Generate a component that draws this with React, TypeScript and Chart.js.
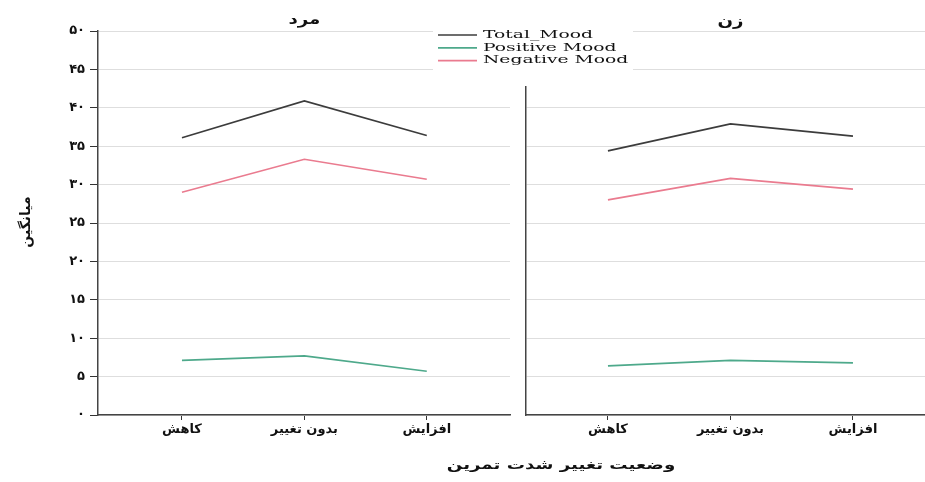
import React, { useEffect, useRef } from 'react';
import { Chart, registerables } from 'chart.js';
Chart.register(...registerables);

const W = 925;
const H = 482;

const categories = ['کاهش', 'بدون تغییر', 'افزایش'];
const seriesNames = ['Total_Mood', 'Positive Mood', 'Negative Mood'];
const seriesColors = ['#3c3c3c', '#4ea98b', '#ea7b8f'];
const panelTitles = ['مرد', 'زن'];

const maleTotal = [36.1, 40.9, 36.4];
const malePositive = [7.1, 7.7, 5.7];
const maleNegative = [29.0, 33.3, 30.7];

const femaleTotal = [34.4, 37.9, 36.3];
const femalePositive = [6.4, 7.1, 6.8];
const femaleNegative = [28.0, 30.8, 29.4];

const yTitle = 'میانگین';
const xTitle = 'وضعیت تغییر شدت تمرین';
const yMin = 0;
const yMax = 50;
const yStep = 5;

const toFa = (n: number | string) => String(n).replace(/\d/g, (d) => '۰۱۲۳۴۵۶۷۸۹'[+d]);

const makeDatasets = (vals: number[][]) =>
  seriesNames.map((name, k) => ({
    label: name,
    data: categories.map((_, i) => ({ x: i, y: vals[k][i] })),
    borderColor: seriesColors[k],
    backgroundColor: seriesColors[k],
    borderWidth: 1.7,
    pointRadius: 0,
    fill: false,
    tension: 0,
  }));

function drawStretched(ctx: CanvasRenderingContext2D, text: string, x: number, y: number, font: string, sx: number, align: CanvasTextAlign = 'center', rot = 0) {
  ctx.save();
  ctx.font = font;
  ctx.fillStyle = '#111';
  ctx.textAlign = align;
  ctx.textBaseline = 'middle';
  ctx.translate(x, y);
  if (rot) ctx.rotate(rot);
  ctx.scale(sx, 1);
  ctx.fillText(text, 0, 0);
  ctx.restore();
}

const xTickFont = { family: 'DejaVu Sans', size: 13, weight: 'bold' as const };
const yTickFont = { family: 'DejaVu Sans', size: 13, weight: 'bold' as const };

function xScale(min: number, max: number) {
  return {
    type: 'linear' as const,
    min,
    max,
    afterBuildTicks: (s: any) => {
      s.ticks = categories.map((_, i) => ({ value: i }));
    },
    afterFit: (s: any) => {
      s.height = 67;
    },
    ticks: {
      callback: (v: any) => categories[Math.round(Number(v))] ?? '',
      font: xTickFont,
      color: '#111',
      padding: 2,
      maxRotation: 0,
      autoSkip: false,
    },
    grid: { display: true, drawOnChartArea: false, drawTicks: true, tickLength: 5, tickColor: '#333' },
    border: { display: true, color: '#444', width: 1.5 },
  };
}

export default function App() {
  const leftRef = useRef<HTMLCanvasElement>(null);
  const rightRef = useRef<HTMLCanvasElement>(null);

  useEffect(() => {
    const leftDecor = {
      id: 'leftDecor',
      afterDraw(chart: any) {
        const ctx = chart.ctx as CanvasRenderingContext2D;
        const xs = chart.scales.x;
        const area = chart.chartArea;
        drawStretched(ctx, panelTitles[0], xs.getPixelForValue(1), area.top - 11, 'bold 14px "DejaVu Sans"', 1.3);
        drawStretched(ctx, yTitle, 26, 222, 'bold 14px "DejaVu Sans"', 1.0, 'center', -Math.PI / 2);
        drawStretched(ctx, xTitle, 561, 466, 'bold 13px "DejaVu Sans"', 1.4);
      },
    };

    const rightDecor = {
      id: 'rightDecor',
      afterDraw(chart: any) {
        const ctx = chart.ctx as CanvasRenderingContext2D;
        const xs = chart.scales.x;
        const area = chart.chartArea;
        drawStretched(ctx, panelTitles[1], xs.getPixelForValue(1), area.top - 9, 'bold 14px "DejaVu Sans"', 1.3);
        ctx.save();
        ctx.fillStyle = '#ffffff';
        ctx.fillRect(433, 26, 200, 60);
        ctx.restore();
        chart.data.datasets.forEach((ds: any, k: number) => {
          const y = 35 + k * 12.8;
          ctx.save();
          ctx.strokeStyle = ds.borderColor;
          ctx.lineWidth = 1.7;
          ctx.beginPath();
          ctx.moveTo(438, y);
          ctx.lineTo(477, y);
          ctx.stroke();
          ctx.restore();
          drawStretched(ctx, ds.label, 483, y, '11px "DejaVu Serif"', 1.7, 'left');
        });
      },
    };

    const left = new Chart(leftRef.current!, {
      type: 'line',
      data: { datasets: makeDatasets([maleTotal, malePositive, maleNegative]) as any },
      options: {
        animation: false,
        responsive: false,
        devicePixelRatio: 1,
        layout: { padding: { left: 0, top: 31, right: W - 510, bottom: 0 } },
        plugins: { legend: { display: false }, title: { display: false }, tooltip: { enabled: false } },
        scales: {
          x: xScale(-0.686, 2.68) as any,
          y: {
            type: 'linear',
            min: yMin,
            max: yMax,
            afterFit: (s: any) => {
              s.width = 98;
            },
            ticks: {
              stepSize: yStep,
              callback: (v: any) => toFa(v),
              font: yTickFont,
              color: '#111',
              padding: 5,
            },
            grid: { color: '#dedede', lineWidth: 1, drawTicks: true, tickLength: 8, tickColor: '#333' },
            border: { display: true, color: '#444', width: 1.5 },
          },
        },
      },
      plugins: [leftDecor],
    });

    const right = new Chart(rightRef.current!, {
      type: 'line',
      data: { datasets: makeDatasets([femaleTotal, femalePositive, femaleNegative]) as any },
      options: {
        animation: false,
        responsive: false,
        devicePixelRatio: 1,
        layout: { padding: { left: 526, top: 31, right: 0, bottom: 0 } },
        plugins: { legend: { display: false }, title: { display: false }, tooltip: { enabled: false } },
        scales: {
          x: xScale(-0.669, 2.588) as any,
          y: {
            type: 'linear',
            min: yMin,
            max: yMax,
            afterFit: (s: any) => {
              s.width = 0;
            },
            ticks: { stepSize: yStep, display: false },
            grid: { color: '#dedede', lineWidth: 1, drawTicks: false },
            border: { display: true, color: '#444', width: 1.5 },
          },
        },
      },
      plugins: [rightDecor],
    });

    return () => {
      left.destroy();
      right.destroy();
    };
  }, []);

  return (
    <div style={{ position: 'absolute', left: 0, top: 0, width: W, height: H, background: '#fff', overflow: 'hidden' }}>
      <canvas ref={leftRef} width={W} height={H} style={{ position: 'absolute', left: 0, top: 0 }} />
      <canvas ref={rightRef} width={W} height={H} style={{ position: 'absolute', left: 0, top: 0 }} />
    </div>
  );
}
